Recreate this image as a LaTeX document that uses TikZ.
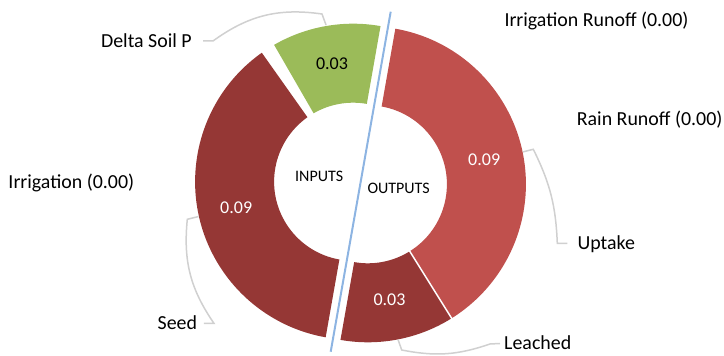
\documentclass[tikz,border=0pt]{standalone}
\usepackage{fontspec}
\setmainfont{Carlito}
\usetikzlibrary{calc}

\definecolor{seedred}{HTML}{953735}
\definecolor{uptakered}{HTML}{C0504D}
\definecolor{soilgreen}{HTML}{9BBB59}
\definecolor{splitblue}{HTML}{8DB4E2}
\definecolor{leadergray}{HTML}{D0D0D0}

% ring segment: centre, start angle, end angle, colour
\newcommand\donutslice[4]{%
  \fill[#4, shift={(#1)}] (#2:158) arc[start angle=#2, end angle=#3, radius=158]
    -- (#3:79) arc[start angle=#3, end angle=#2, radius=79] -- cycle;}

\begin{document}
\begin{tikzpicture}[x=1pt, y=1pt,
  lbl/.style={font=\fontsize{19.9}{22}\selectfont, inner sep=0pt},
  val/.style={font=\fontsize{18}{20}\selectfont, inner sep=0pt},
  hub/.style={font=\fontsize{16}{18}\selectfont, inner sep=0pt},
  leader/.style={draw=leadergray, line width=1.5pt}]
\useasboundingbox (0,0) rectangle (724,356);

% centres of the two half rings
\coordinate (lc) at (353.1,174.3);
\coordinate (rc) at (367.9,171.7);

% outputs half
\donutslice{rc}{80}{-58}{uptakered}
\donutslice{rc}{-58}{-100}{seedred}
\draw[white, line width=1.5pt, shift={(rc)}] (-58:77) -- (-58:160);
% inputs half
\donutslice{lc}{80}{120}{soilgreen}
\donutslice{lc}{125.3}{260}{seedred}

% dividing line
\coordinate (splittop) at (390.7,344.3);
\coordinate (splitbot) at (330.7,4.3);
\draw[splitblue, line width=2pt] (splittop) -- (splitbot);

% category labels
\node[lbl, anchor=base east] (dsp) at (192,308.3) {Delta Soil P};
\node[lbl, anchor=base west] (irrro) at (504.3,329.3) {Irrigation Runoff (0.00)};
\node[lbl, anchor=base west] (rainro) at (576.7,230) {Rain Runoff (0.00)};
\node[lbl, anchor=base west] (irr) at (8.3,167.3) {Irrigation (0.00)};
\node[lbl, anchor=base west] (upt) at (577.3,106) {Uptake};
\node[lbl, anchor=base west] (lea) at (504,6) {Leached};
\node[lbl, anchor=base west] (seed) at (157.5,26.7) {Seed};

% value labels
\node[val, anchor=base] (vsoil) at (332,286) {0.03};
\node[val, anchor=base, text=white] (vseed) at (236.2,142.7) {0.09};
\node[val, anchor=base, text=white] (vupt) at (484.2,190.3) {0.09};
\node[val, anchor=base, text=white] (vlea) at (389.5,50.3) {0.03};

% hub texts
\node[hub, anchor=base west] (inputs) at (295,174.3) {INPUTS};
\node[hub, anchor=base west] (outputs) at (367.3,162) {OUTPUTS};

% leader end points on the ring
\coordinate (dspTip) at ($(lc)+(99.8:159)$);
\coordinate (dspBend) at (322,342);
\coordinate (seedTip) at ($(lc)+(192.7:158.5)$);
\coordinate (seedBend) at (187.3,136.7);
\coordinate (uptTip) at ($(rc)+(11.8:158.5)$);
\coordinate (uptBend) at (533.3,206.7);
\coordinate (leaTip) at ($(rc)+(-79:158.5)$);
\coordinate (leaBend) at (401.7,6);

% leader lines
\draw[leader] ($(dsp.base east)+(11,6.7)$) -- ++(10,0) to[bend left=22] (dspBend) -- (dspTip);
\draw[leader] ($(seed.base east)+(6.6,6)$) -- ++(10,0) to[bend left=20] (seedBend) -- (seedTip);
\draw[leader] ($(upt.base west)+(-10,6.7)$) -- ++(-10,0) to[bend right=12] (uptBend) -- (uptTip);
\draw[leader] ($(lea.base west)+(-4,6.5)$) -- ++(-10,-0.5) to[bend left=15] (leaBend) -- (leaTip);
\end{tikzpicture}
\end{document}
